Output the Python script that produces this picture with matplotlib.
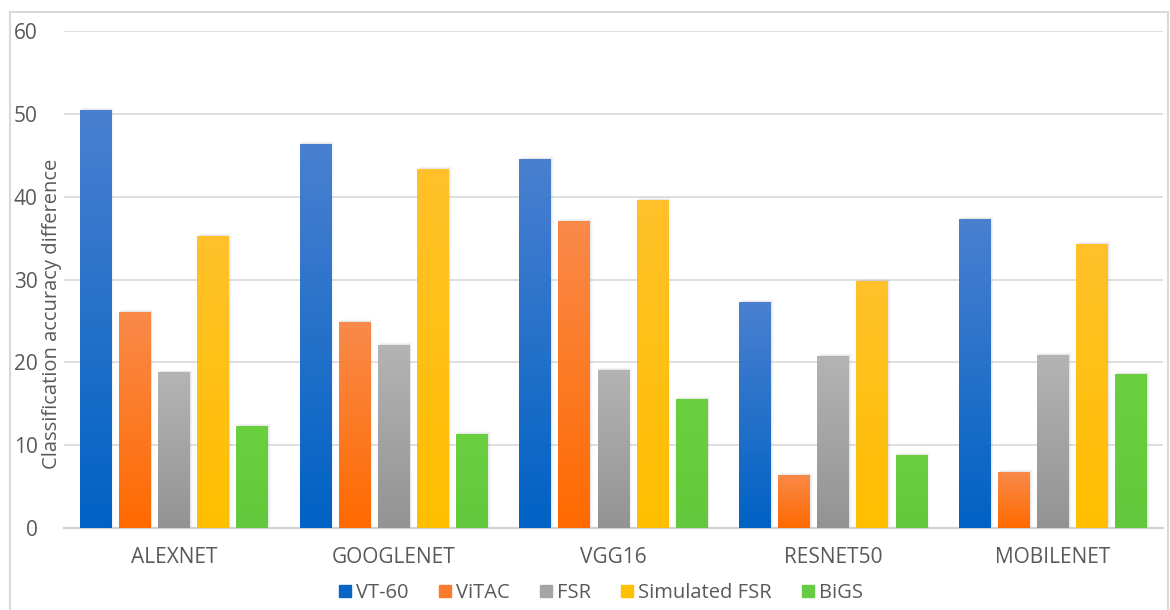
import numpy as np
import matplotlib.pyplot as plt
from matplotlib.colors import LinearSegmentedColormap
from matplotlib.patches import Rectangle, Patch

plt.rcParams['font.family'] = ['Open Sans', 'DejaVu Sans']

models = ['ALEXNET', 'GOOGLENET', 'VGG16', 'RESNET50', 'MOBILENET']
series = ['VT-60', 'ViTAC', 'FSR', 'Simulated FSR', 'BiGS']
vt60 = [50.5, 46.4, 44.6, 27.3, 37.3]
vitac = [26.1, 24.9, 37.1, 6.4, 6.8]
fsr = [18.8, 22.1, 19.1, 20.8, 20.9]
sim_fsr = [35.3, 43.4, 39.6, 29.8, 34.3]
bigs = [12.3, 11.4, 15.6, 8.8, 18.6]
values = [vt60, vitac, fsr, sim_fsr, bigs]

# (top colour, bottom colour) for the gradient fill
grads = [('#4a80d0', '#0062c4'), ('#f98a4a', '#ff6a00'), ('#b4b4b4', '#939393'),
         ('#ffc12a', '#ffbf00'), ('#6ad040', '#62c93c')]
legend_cols = ['#0a66c6', '#fb7a2c', '#a5a5a5', '#ffc000', '#66cc44']

fig = plt.figure(figsize=(11.7, 6.1), dpi=100)
ax = fig.add_axes([64/1170, 1-528/610, (1163-64)/1170, (528-31)/610])

x = np.arange(len(models))
pitch = 0.178
width = 0.145
for i, vals in enumerate(values):
    cmap = LinearSegmentedColormap.from_list('g%d' % i, [grads[i][1], grads[i][0]])
    for j, v in enumerate(vals):
        xc = x[j] + (i - 2) * pitch
        # soft shadow
        for k, a in enumerate([0.10, 0.06, 0.03]):
            ax.add_patch(Rectangle((xc - width/2 + 0.004*(k+1), 0), width, v + 0.1*(k+1),
                                   color='gray', alpha=a, lw=0, zorder=2))
        bar = ax.bar(xc, v, width, color=legend_cols[i], zorder=3)[0]
        grad = np.linspace(0, 1, 256).reshape(-1, 1)
        im = ax.imshow(grad, cmap=cmap, aspect='auto', origin='lower',
                       extent=[xc - width/2, xc + width/2, 0, v], zorder=4)
        im.set_clip_path(bar)

ax.set_xlim(-0.5, 4.5)
ax.set_ylim(0, 60)
ax.set_yticks(range(0, 61, 10))
ax.set_xticks(x)
ax.set_xticklabels(models)
ax.grid(axis='y', color='#d9d9d9', lw=1.2, zorder=0)
ax.set_axisbelow(True)
for s in ['top', 'right', 'left']:
    ax.spines[s].set_visible(False)
ax.spines['bottom'].set_color('#d0d0d0')
ax.spines['bottom'].set_linewidth(1.5)
ax.tick_params(axis='both', length=0, labelsize=15, colors='#595959')
ax.tick_params(axis='x', pad=14)
ax.tick_params(axis='y', pad=19)
ax.set_ylabel('Classification accuracy difference', fontsize=14.5, color='#595959')
ax.yaxis.set_label_coords(-0.002, 0.43)

handles = [Patch(color=c) for c in legend_cols]
fig.legend(handles, series, loc='center', bbox_to_anchor=(601/1170, 1-593/610), ncol=5,
           frameon=False, fontsize=14.5, handlelength=0.6, handleheight=0.6,
           handletextpad=0.25, columnspacing=1.5, labelcolor='#595959')

fig.add_artist(Rectangle((10/1170, -0.01), 1158/1170, 1-12/610 + 0.01, transform=fig.transFigure,
                         fill=False, ec='#d9d9d9', lw=1.5))

fig.savefig('out.png', dpi=100)
